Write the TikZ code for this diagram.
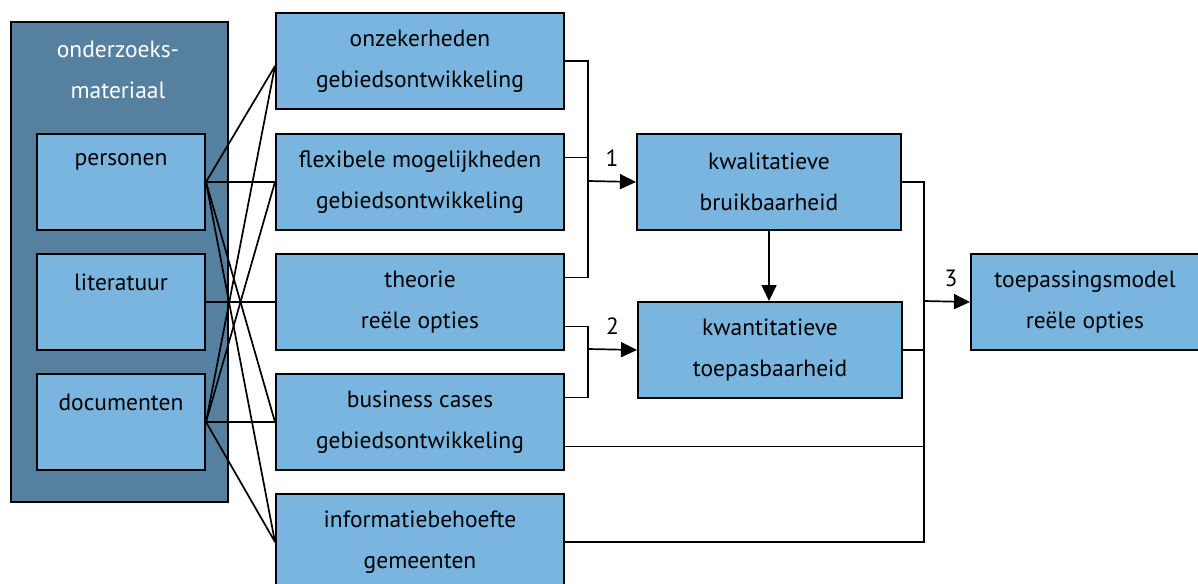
\documentclass[tikz,border=0pt]{standalone}
\usepackage{fontspec}
\setmainfont{PT Sans}
\usetikzlibrary{calc,arrows.meta}
\definecolor{boxblue}{HTML}{7AB5DF}
\definecolor{frameblue}{HTML}{5580A0}
\tikzset{
  box/.style={draw=black, line width=2pt, fill=boxblue, rectangle, inner sep=0pt,
    anchor=north west, align=center, font=\fontsize{23.5}{41}\selectfont},
  boxtext/.style={font=\fontsize{23.5}{41}\selectfont, align=center},
  conn/.style={line width=1.7pt, draw=black},
  arr/.style={conn, -{Triangle[length=16pt,width=15pt]}},
  num/.style={font=\fontsize{23.5}{26}\selectfont, inner sep=0pt}
}
\begin{document}
\begin{tikzpicture}[x=1pt, y=-1pt]
\useasboundingbox (0,0) rectangle (1198,583);
\clip (0,0) rectangle (1198,583);

% research material frame with its three sources
\node[box, fill=frameblue, minimum width=217pt, minimum height=480pt] (mat) at (10,21) {};
\node[boxtext, text=white] (matlabel) at (118,70) {onderzoeks-\\materiaal};
\node[box, minimum width=168pt, minimum height=96pt] (pers) at (36,133) {};
\node[box, minimum width=168pt, minimum height=96pt] (lit) at (36,253) {};
\node[box, minimum width=168pt, minimum height=96pt] (doc) at (36,373) {};
\node[boxtext] (perslabel) at ($(pers.north)+(0,29)$) {personen};
\node[boxtext] (litlabel) at ($(lit.north)+(0,29)$) {literatuur};
\node[boxtext] (doclabel) at ($(doc.north)+(0,29)$) {documenten};

% topics
\node[box, minimum width=288pt, minimum height=96pt] (onz) at (275,12) {onzekerheden\\gebiedsontwikkeling};
\node[box, minimum width=288pt, minimum height=96pt] (flex) at (275,133) {flexibele mogelijkheden\\gebiedsontwikkeling};
\node[box, minimum width=288pt, minimum height=96pt] (theo) at (275,253) {theorie\\reële opties};
\node[box, minimum width=288pt, minimum height=96pt] (bus) at (275,373) {business cases\\gebiedsontwikkeling};
\node[box, minimum width=288pt, minimum height=96pt] (info) at (275,493) {informatiebehoefte\\gemeenten};

% assessments and result
\node[box, minimum width=264pt, minimum height=96pt] (kwal) at (636,133) {kwalitatieve\\bruikbaarheid};
\node[box, minimum width=264pt, minimum height=96pt] (kwant) at (637,301) {kwantitatieve\\toepasbaarheid};
\node[box, minimum width=228pt, minimum height=96pt] (toep) at (970,253) {toepassingsmodel\\reële opties};

% sources to topics
\coordinate (onzin) at ($(onz.west)+(0,5)$);
\draw[conn] (pers.east) -- (onzin);
\draw[conn] (pers.east) -- (flex.west);
\draw[conn] (pers.east) -- (bus.west);
\draw[conn] (pers.east) -- (info.west);
\draw[conn] (lit.east) -- (theo.west);
\draw[conn] (doc.east) -- (onzin);
\draw[conn] (doc.east) -- (flex.west);
\draw[conn] (doc.east) -- (bus.west);
\draw[conn] (doc.east) -- (info.west);

% bracket 1
\coordinate (j1) at (588,181);
\coordinate (flexout) at ($(flex.north east)!0.25!(flex.south east)$);
\coordinate (theoup) at ($(theo.north east)!0.25!(theo.south east)$);
\draw[conn] (onz.east) -| (j1) |- (theoup);
\draw[conn] (flexout) -- (flexout -| j1);
\draw[arr] (j1) -- (kwal.west) node[num, midway, yshift=23pt] {1};

% bracket 2
\coordinate (j2) at (588,349);
\coordinate (theodown) at ($(theo.north east)!0.75!(theo.south east)$);
\coordinate (busup) at ($(bus.north east)!0.25!(bus.south east)$);
\draw[conn] (theodown) -| (j2) |- (busup);
\draw[arr] (j2) -- (kwant.west) node[num, midway, yshift=23pt] {2};

% quality to quantity
\draw[arr] (kwal.south) -- (kwal.south |- kwant.north);

% bracket 3
\coordinate (j3) at (924,301);
\coordinate (busdown) at ($(bus.north east)!0.75!(bus.south east)$);
\draw[conn] (kwal.east) -| (j3) |- (info.east);
\draw[conn] (kwant.east) -- (kwant.east -| j3);
\draw[conn] (busdown) -- (busdown -| j3);
\draw[arr] (j3) -- (toep.west) node[num, midway, yshift=23pt, xshift=4pt] {3};
\end{tikzpicture}
\end{document}
